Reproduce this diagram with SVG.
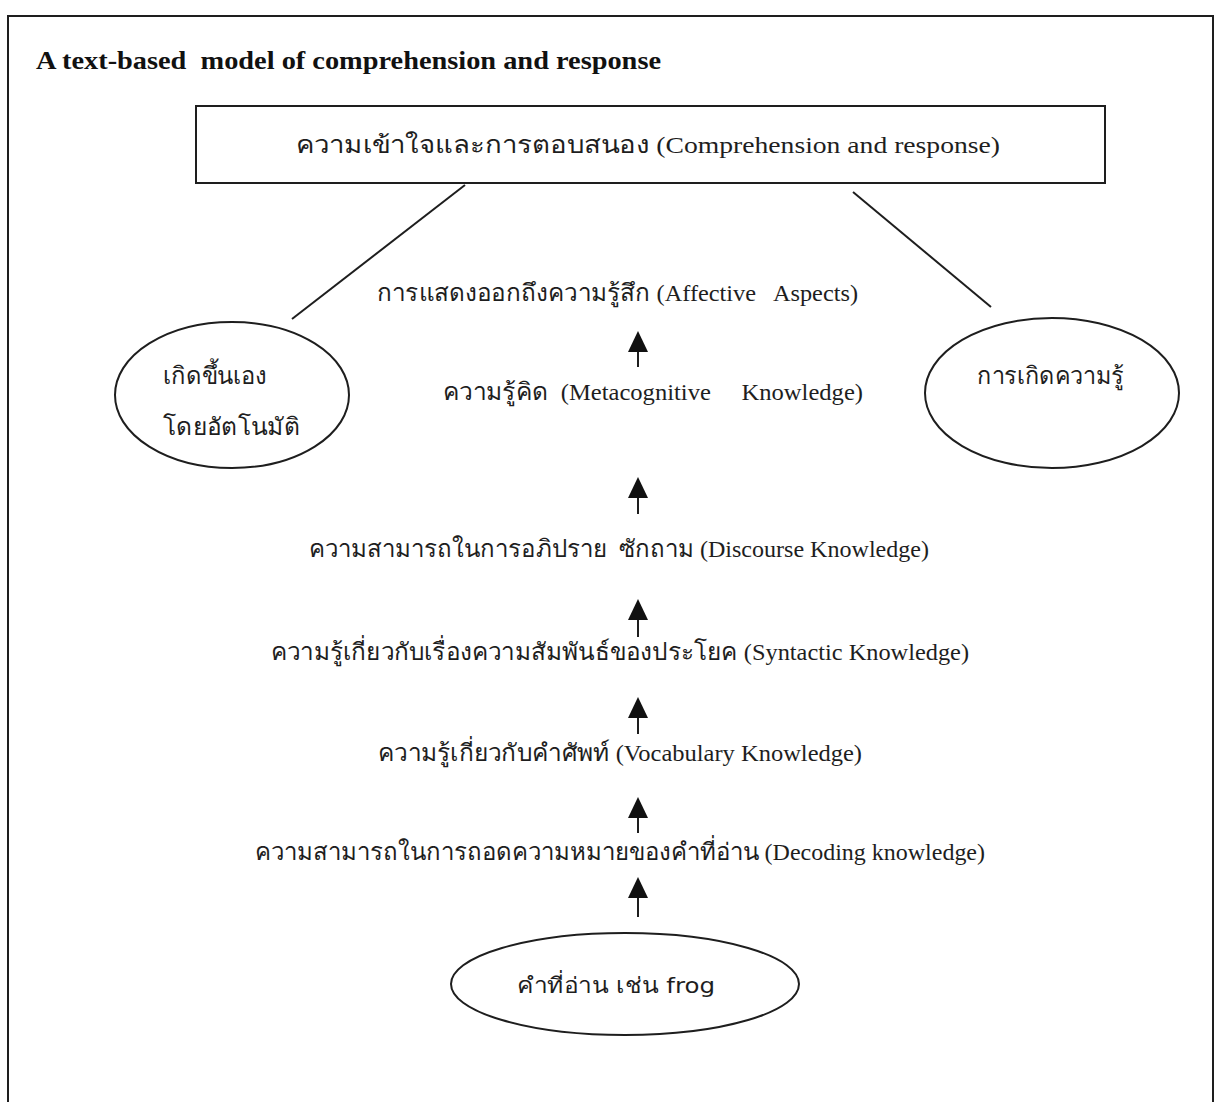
<svg xmlns="http://www.w3.org/2000/svg" width="1218" height="1102" viewBox="0 0 1218 1102">
<style>
.t{font-family:"Liberation Serif","DejaVu Serif",serif;font-size:24px;fill:#1e1e1e;text-anchor:start}
.s{fill:none;stroke:#1e1e1e;stroke-width:2}
.ln{stroke:#1e1e1e;stroke-width:2}
.ah{fill:#111}
.ts{font-family:"DejaVu Sans","Noto Sans",sans-serif;font-size:22px;fill:#1e1e1e}
</style>
<rect width="1218" height="1102" fill="#fff"/>
<path class="s" d="M8,1102 V16 H1213 V1102"/>
<text x="36" y="69" font-family="Liberation Serif, serif" font-weight="bold" font-size="25" fill="#111" xml:space="preserve" textLength="625" lengthAdjust="spacingAndGlyphs">A text-based  model of comprehension and response</text>
<g id="top">
<rect class="s" x="196" y="106" width="909" height="77"/>
<text class="t" x="296" y="153" font-size="27" textLength="704" lengthAdjust="spacingAndGlyphs">ความเข้าใจและการตอบสนอง (Comprehension and response)</text>
</g>
<g id="left">
<ellipse class="s" cx="232" cy="395" rx="117" ry="73"/>
<text class="t" x="163" y="384" textLength="104" lengthAdjust="spacingAndGlyphs">เกิดขึ้นเอง</text>
<text class="t" x="163" y="435" textLength="137" lengthAdjust="spacingAndGlyphs">โดยอัตโนมัติ</text>
</g>
<g id="right">
<ellipse class="s" cx="1052" cy="393" rx="127" ry="75"/>
<text class="t" x="977" y="384" textLength="147" lengthAdjust="spacingAndGlyphs">การเกิดความรู้</text>
</g>
<g id="affective"><text class="t" x="377" y="301" xml:space="preserve" textLength="481" lengthAdjust="spacingAndGlyphs">การแสดงออกถึงความรู้สึก (Affective   Aspects)</text></g>
<g id="meta"><text class="t" x="443" y="400" xml:space="preserve" textLength="420" lengthAdjust="spacingAndGlyphs">ความรู้คิด  (Metacognitive     Knowledge)</text></g>
<g id="discourse"><text class="t" x="309" y="557" xml:space="preserve" textLength="620" lengthAdjust="spacingAndGlyphs">ความสามารถในการอภิปราย  ซักถาม (Discourse Knowledge)</text></g>
<g id="syntactic"><text class="t" x="271" y="660" textLength="698" lengthAdjust="spacingAndGlyphs">ความรู้เกี่ยวกับเรื่องความสัมพันธ์ของประโยค (Syntactic Knowledge)</text></g>
<g id="vocab"><text class="t" x="378" y="761" textLength="484" lengthAdjust="spacingAndGlyphs">ความรู้เกี่ยวกับคำศัพท์ (Vocabulary Knowledge)</text></g>
<g id="decoding"><text class="t" x="255" y="860" textLength="730" lengthAdjust="spacingAndGlyphs">ความสามารถในการถอดความหมายของคำที่อ่าน (Decoding knowledge)</text></g>
<g id="word">
<ellipse class="s" cx="625" cy="984" rx="174" ry="51"/>
<text class="ts" x="517" y="993" textLength="198" lengthAdjust="spacingAndGlyphs">คำที่อ่าน เช่น frog</text>
</g>
<g id="connectors">
<line class="ln" x1="465" y1="185" x2="292" y2="319"/>
<line class="ln" x1="853" y1="192" x2="991" y2="307"/>
<line class="ln" x1="638" y1="349" x2="638" y2="367"/>
<polygon class="ah" points="638,331 628,352 648,352"/>
<line class="ln" x1="638" y1="495" x2="638" y2="514"/>
<polygon class="ah" points="638,477 628,498 648,498"/>
<line class="ln" x1="638" y1="617" x2="638" y2="637"/>
<polygon class="ah" points="638,599 628,620 648,620"/>
<line class="ln" x1="638" y1="715" x2="638" y2="734"/>
<polygon class="ah" points="638,697 628,718 648,718"/>
<line class="ln" x1="638" y1="815" x2="638" y2="833"/>
<polygon class="ah" points="638,797 628,818 648,818"/>
<line class="ln" x1="638" y1="895" x2="638" y2="917"/>
<polygon class="ah" points="638,877 628,898 648,898"/>
</g>
</svg>
